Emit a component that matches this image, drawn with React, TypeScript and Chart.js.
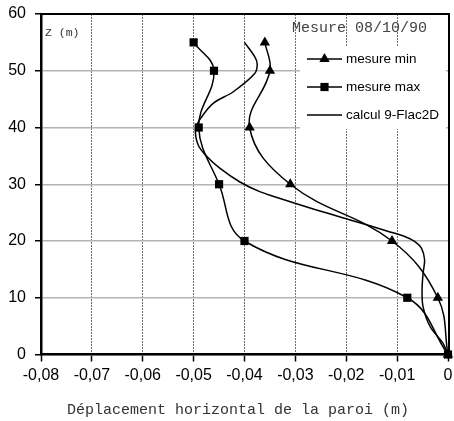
import React, { useEffect, useRef } from 'react';
import { Chart, registerables } from 'chart.js';

Chart.register(...registerables);

// ---- data ----
const depthLevels = [55, 50, 40, 30, 20, 10, 0];
const mesureMinX = [-0.036, -0.035, -0.039, -0.031, -0.011, -0.002, 0];
const mesureMaxX = [-0.05, -0.046, -0.049, -0.045, -0.04, -0.008, 0];
const calculX = [
  -0.04, -0.038, -0.0375, -0.038, -0.0422, -0.0461, -0.0484, -0.0496, -0.0491, -0.0474,
  -0.0448, -0.0409, -0.037, -0.033, -0.0245, -0.018, -0.0114, -0.0085, -0.0065, -0.0052,
  -0.0046, -0.0049, -0.0051, -0.0049, -0.0035, -0.001, 0,
];
const calculZ = [
  55, 52.5, 51.2, 49.5, 46.3, 44.3, 41.9, 39.8, 36.9, 34.9,
  32.8, 30.4, 28.7, 27.5, 25.1, 23.4, 21.6, 20.8, 19.9, 18.7,
  16.7, 14.3, 11.4, 8.4, 4.9, 2, 0,
];
const xTickLabels = ['-0,08', '-0,07', '-0,06', '-0,05', '-0,04', '-0,03', '-0,02', '-0,01', '0'];
const yTickLabels = ['0', '10', '20', '30', '40', '50', '60'];
const seriesLabels = ['mesure min', 'mesure max', 'calcul 9-Flac2D'];
const xTitle = 'Déplacement horizontal de la paroi (m)';
const yTitle = 'Z (m)';
const noteText = 'Mesure 08/10/90';

const SANS = '"Liberation Sans", Arial, sans-serif';
const MONO = '"Liberation Mono", "Courier New", monospace';

const zeroPad = (s: any) => {
  s.paddingLeft = 0;
  s.paddingRight = 0;
  s.paddingTop = 0;
  s.paddingBottom = 0;
};

const extrasPlugin = {
  id: 'extras',
  beforeDatasetsDraw(chart: any) {
    const ctx = chart.ctx;
    const a = chart.chartArea;
    ctx.save();
    // legend background hides the grid
    ctx.fillStyle = '#ffffff';
    ctx.fillRect(a.right - 148, a.top + 33, 146, 82);
    ctx.restore();
  },
  afterDatasetsDraw(chart: any) {
    const ctx = chart.ctx;
    const a = chart.chartArea;
    ctx.save();
    // top & right frame
    ctx.strokeStyle = '#000';
    ctx.lineWidth = 2;
    ctx.beginPath();
    ctx.moveTo(a.left, a.top);
    ctx.lineTo(a.right + 1, a.top);
    ctx.lineTo(a.right + 1, a.bottom);
    ctx.stroke();

    // texts
    ctx.fillStyle = '#333';
    ctx.textBaseline = 'middle';
    ctx.textAlign = 'left';
    ctx.font = `11.5px ${MONO}`;
    ctx.fillText(yTitle, a.left + 4, a.top + 19);
    ctx.fillStyle = '#444';
    ctx.font = `15px ${MONO}`;
    ctx.fillText(noteText, a.left + 251, a.top + 14);

    // x axis title
    ctx.fillStyle = '#333';
    ctx.font = `15px ${MONO}`;
    ctx.textAlign = 'left';
    ctx.fillText(xTitle, a.left + 26, a.bottom + 56);

    // legend
    const x0 = a.right - 141;
    const x1 = a.right - 106;
    const ys = [a.top + 45, a.top + 73, a.top + 101];
    chart.data.datasets.forEach((ds: any, i: number) => {
      const y = ys[i];
      ctx.strokeStyle = ds.borderColor;
      ctx.lineWidth = ds.borderWidth;
      ctx.beginPath();
      ctx.moveTo(x0, y);
      ctx.lineTo(x1, y);
      ctx.stroke();
      if (ds.pointRadius > 0) {
        const r = ds.pointRadius;
        ctx.fillStyle = ds.pointBackgroundColor;
        ctx.beginPath();
        const cx = (x0 + x1) / 2;
        if (ds.pointStyle === 'triangle') {
          ctx.moveTo(cx, y - r);
          ctx.lineTo(cx + 0.866 * r, y + 0.5 * r);
          ctx.lineTo(cx - 0.866 * r, y + 0.5 * r);
          ctx.closePath();
        } else {
          const s = Math.SQRT1_2 * r;
          ctx.rect(cx - s, y - s, 2 * s, 2 * s);
        }
        ctx.fill();
      }
      ctx.fillStyle = '#000';
      ctx.font = `13.5px ${SANS}`;
      ctx.textBaseline = 'middle';
      ctx.textAlign = 'left';
      ctx.fillText(ds.label, x1 + 4, y);
    });
    ctx.restore();
  },
};

export default function App() {
  const canvasRef = useRef<HTMLCanvasElement | null>(null);

  useEffect(() => {
    const canvas = canvasRef.current;
    if (!canvas) return;
    const chart = new Chart(canvas, {
      type: 'line',
      data: {
        datasets: [
          {
            label: seriesLabels[0],
            data: mesureMinX.map((x, i) => ({ x, y: depthLevels[i] })),
            borderColor: '#000',
            borderWidth: 1.5,
            pointStyle: 'triangle',
            pointRadius: 6,
            pointBackgroundColor: '#000',
            pointBorderColor: '#000',
            pointBorderWidth: 0,
            tension: 0.4,
            clip: false,
          },
          {
            label: seriesLabels[1],
            data: mesureMaxX.map((x, i) => ({ x, y: depthLevels[i] })),
            borderColor: '#000',
            borderWidth: 1.5,
            pointStyle: 'rect',
            pointRadius: 5.8,
            pointBackgroundColor: '#000',
            pointBorderColor: '#000',
            pointBorderWidth: 0,
            tension: 0.4,
            clip: false,
          },
          {
            label: seriesLabels[2],
            data: calculX.map((x, i) => ({ x, y: calculZ[i] })),
            borderColor: '#000',
            borderWidth: 1.5,
            pointRadius: 0,
            tension: 0.35,
            clip: false,
          },
        ] as any,
      },
      options: {
        responsive: false,
        animation: false,
        layout: { padding: { top: 14, right: 6, left: 0, bottom: 0 } },
        plugins: { legend: { display: false }, tooltip: { enabled: false } },
        scales: {
          x: {
            type: 'linear',
            min: -0.08,
            max: 0,
            afterFit: (s: any) => {
              s.height = 66.5;
              zeroPad(s);
            },
            ticks: {
              stepSize: 0.01,
              color: '#000',
              font: { family: SANS, size: 16 },
              padding: 4,
              maxRotation: 0,
              autoSkip: false,
              callback: (_v: any, i: number) => xTickLabels[i],
            },
            grid: {
              color: '#707070',
              lineWidth: 1,
              tickColor: '#000',
              tickLength: 7,
              tickWidth: 1.5,
            },
            border: { color: '#000', width: 2.5, dash: [2, 1] },
          },
          y: {
            type: 'linear',
            min: 0,
            max: 60,
            afterFit: (s: any) => {
              s.width = 41;
              zeroPad(s);
            },
            ticks: {
              stepSize: 10,
              color: '#000',
              font: { family: SANS, size: 16 },
              padding: 9,
              callback: (_v: any, i: number) => yTickLabels[i],
            },
            grid: {
              color: '#b4b4b4',
              lineWidth: 1.5,
              tickColor: '#000',
              tickLength: 6,
              tickWidth: 1.5,
            },
            border: { color: '#000', width: 2.5 },
          },
        },
      },
      plugins: [extrasPlugin],
    } as any);
    return () => chart.destroy();
  }, []);

  return (
    <div style={{ position: 'fixed', left: 0, top: 0, width: 454, height: 421, background: '#fff' }}>
      <canvas ref={canvasRef} width={454} height={421} />
    </div>
  );
}
